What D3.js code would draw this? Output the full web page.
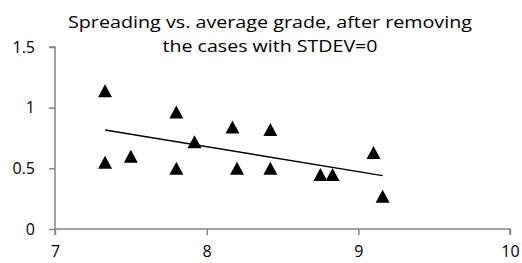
<!DOCTYPE html>
<html>
<head>
<meta charset="utf-8">
<script src="https://cdn.jsdelivr.net/npm/d3@7"></script>
<style>
  html, body { margin: 0; padding: 0; background: #fff; }
  svg { display: block; }
</style>
</head>
<body>
<div id="chart"></div>
<script>
// values
const avgGrade = [7.33, 7.80, 7.92, 7.33, 7.50, 7.80, 8.17, 8.42, 8.20, 8.42, 8.75, 8.83, 9.10, 9.16]
const spreading = [1.14, 0.965, 0.72, 0.55, 0.60, 0.50, 0.84, 0.82, 0.50, 0.50, 0.45, 0.45, 0.63, 0.27]
const xTicks = [7, 8, 9, 10]
const yTicks = [0, 0.5, 1, 1.5]
const titleLines = ['Spreading vs. average grade, after removing', 'the cases with STDEV=0']
const titleWidths = [404, 215]

const width = 522
const height = 263
const axisColor = '#868686'
const font = '"Open Sans", "Liberation Sans", sans-serif'

const svg = d3.select('#chart').append('svg')
  .attr('width', width)
  .attr('height', height)

const x = d3.scaleLinear().domain([7, 10]).range([55, 510])
const y = d3.scaleLinear().domain([0, 1.5]).range([229, 47])

// y axis
const yAxis = svg.append('g')
  .attr('transform', `translate(${x(7)},0)`)
  .call(d3.axisLeft(y).tickValues(yTicks).tickSize(6).tickPadding(14)
    .tickFormat(d => d3.format('')(d)))
yAxis.select('.domain').attr('stroke', axisColor).attr('stroke-width', 1.5).attr('d', `M-6,${y(1.5)}H0V${y(0)}`)
yAxis.selectAll('.tick line').attr('stroke', axisColor).attr('stroke-width', 1.5)
yAxis.selectAll('.tick text').attr('font-family', font).attr('font-size', 16).attr('fill', '#000')

// x axis
const xAxis = svg.append('g')
  .attr('transform', `translate(0,${y(0)})`)
  .call(d3.axisBottom(x).tickValues(xTicks).tickSize(6).tickPadding(11)
    .tickFormat(d => d3.format('')(d)))
xAxis.select('.domain').attr('stroke', axisColor).attr('stroke-width', 1.5).attr('d', `M${x(7)},6V0H${x(10)}V6`)
xAxis.selectAll('.tick line').attr('stroke', axisColor).attr('stroke-width', 1.5)
xAxis.selectAll('.tick text').attr('font-family', font).attr('font-size', 16).attr('fill', '#000')

// linear trend line (least squares)
const points = avgGrade.map((g, i) => ({ g, s: spreading[i] }))
const mx = d3.mean(avgGrade)
const my = d3.mean(spreading)
const slope = d3.sum(points, p => (p.g - mx) * (p.s - my)) / d3.sum(points, p => (p.g - mx) ** 2)
const fit = v => my + slope * (v - mx)
const [gMin, gMax] = d3.extent(avgGrade)
svg.append('line')
  .attr('x1', x(gMin)).attr('y1', y(fit(gMin)))
  .attr('x2', x(gMax)).attr('y2', y(fit(gMax)))
  .attr('stroke', '#000')
  .attr('stroke-width', 1.4)

// triangle markers
const tri = (cx, cy) => `M${cx},${cy - 6.5}L${cx + 7},${cy + 6.5}L${cx - 7},${cy + 6.5}Z`
svg.append('g')
  .selectAll('path')
  .data(points)
  .join('path')
  .attr('d', d => tri(x(d.g), y(d.s)))
  .attr('fill', '#000')

// title, squeezed to the reference widths (narrow font in the original)
svg.append('g')
  .selectAll('text')
  .data(titleLines)
  .join('text')
  .attr('x', 270)
  .attr('y', (d, i) => 28 + i * 24)
  .attr('text-anchor', 'middle')
  .attr('font-family', font)
  .attr('font-size', 17)
  .attr('textLength', (d, i) => titleWidths[i])
  .attr('lengthAdjust', 'spacingAndGlyphs')
  .attr('fill', '#000')
  .text(d => d)
</script>
</body>
</html>
